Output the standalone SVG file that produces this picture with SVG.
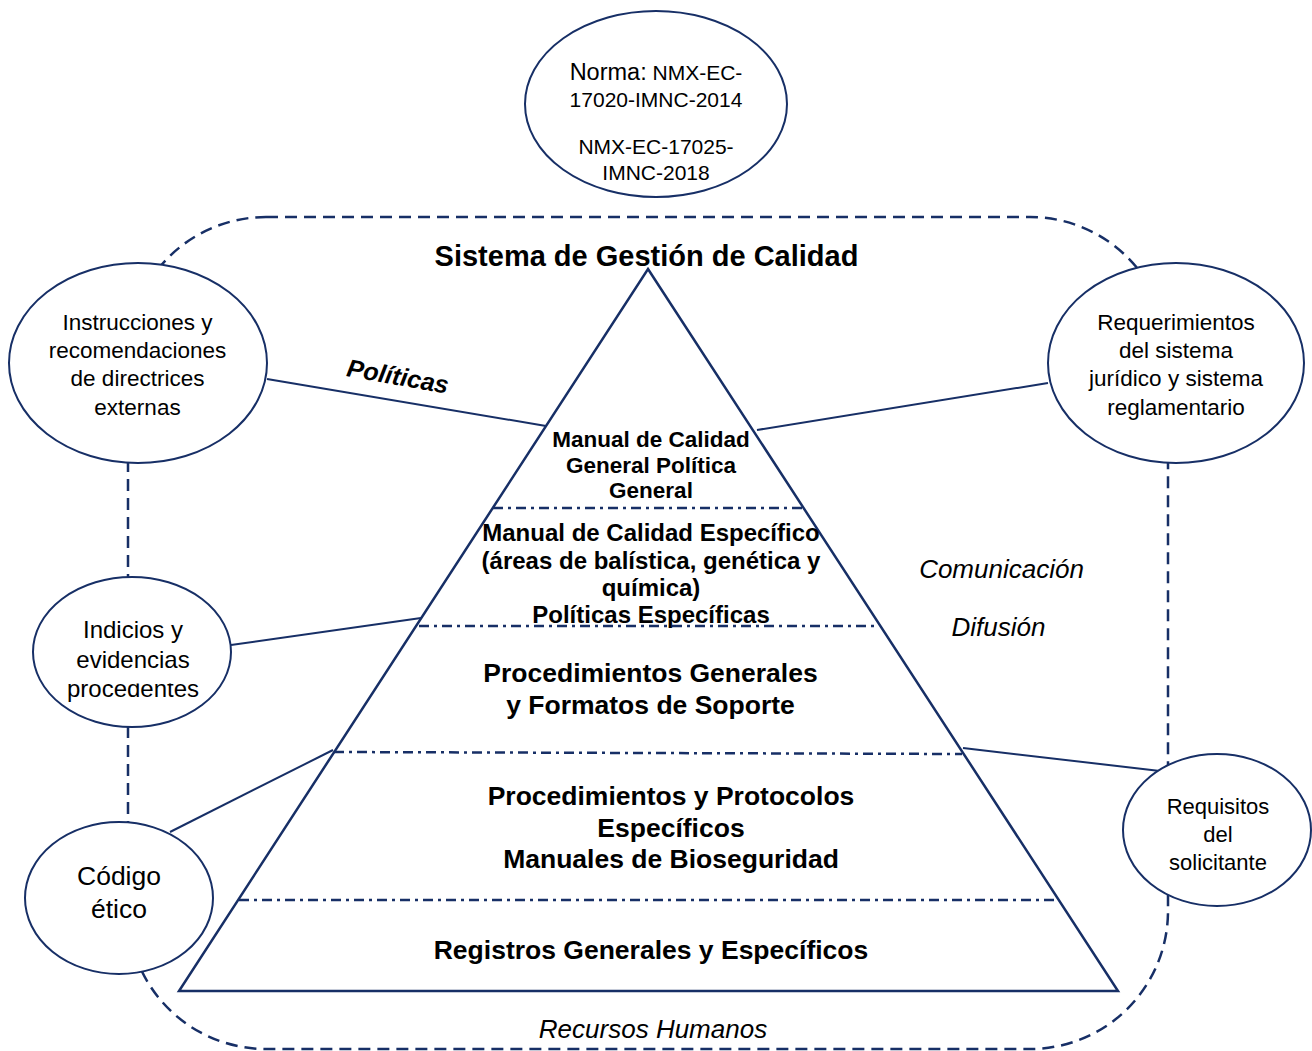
<svg xmlns="http://www.w3.org/2000/svg" width="1312" height="1051" viewBox="0 0 1312 1051">
<defs>
<style>
.ln{stroke:#172f66;stroke-width:2;fill:none}
.bd{stroke:#172f66;stroke-width:2.5;fill:none;stroke-dasharray:12 7}
.dd{stroke:#172f66;stroke-width:2.5;fill:none;stroke-dasharray:10 5 3 5}
.el{stroke:#172f66;stroke-width:2;fill:#fff}
.py{stroke:#172f66;stroke-width:2.5;fill:none;stroke-linejoin:miter}
text{font-family:"Liberation Sans",Arial,sans-serif;fill:#000;text-anchor:middle}
.b{font-weight:bold}
.i{font-style:italic}
</style>
<clipPath id="clipInd" clipPathUnits="userSpaceOnUse"><rect x="0" y="683.5" width="300" height="40"/></clipPath>
</defs>
<rect id="boundary" class="bd" x="128" y="217" width="1040" height="832" rx="138" ry="138"/>
<g id="pyramid">
<polygon class="py" points="648,269 1118,991 179,991"/>
<line class="dd" x1="493" y1="508" x2="806" y2="508"/>
<line class="dd" x1="419" y1="626" x2="878" y2="626"/>
<line class="dd" x1="334" y1="752" x2="962" y2="754"/>
<line class="dd" x1="239" y1="900" x2="1058" y2="900"/>
</g>
<g id="connectors">
<line class="ln" x1="267" y1="379" x2="546" y2="426"/>
<line class="ln" x1="757" y1="430" x2="1048" y2="383"/>
<line class="ln" x1="231" y1="645" x2="421" y2="618"/>
<line class="ln" x1="170" y1="832" x2="333" y2="750"/>
<line class="ln" x1="963" y1="748" x2="1160" y2="771"/>
</g>
<g id="norma">
<ellipse class="el" cx="656" cy="104" rx="131" ry="93"/>
<text x="656" y="80" font-size="21"><tspan font-size="23.5">Norma:</tspan> NMX-EC-</text>
<text x="656" y="107" font-size="21">17020-IMNC-2014</text>
<text x="656" y="154" font-size="21">NMX-EC-17025-</text>
<text x="656" y="180" font-size="21">IMNC-2018</text>
</g>
<g id="instrucciones">
<ellipse class="el" cx="138" cy="363" rx="129" ry="100"/>
<text x="137.5" y="330" font-size="22.5">Instrucciones y</text>
<text x="137.5" y="358" font-size="22.5">recomendaciones</text>
<text x="137.5" y="386" font-size="22.5">de directrices</text>
<text x="137.5" y="415" font-size="22.5">externas</text>
</g>
<g id="requerimientos">
<ellipse class="el" cx="1176" cy="363" rx="128" ry="100"/>
<text x="1176" y="330" font-size="22.5">Requerimientos</text>
<text x="1176" y="358" font-size="22.5">del sistema</text>
<text x="1176" y="386" font-size="22.5">jurídico y sistema</text>
<text x="1176" y="415" font-size="22.5">reglamentario</text>
</g>
<g id="indicios">
<ellipse class="el" cx="132" cy="652" rx="99" ry="75"/>
<text x="133" y="638" font-size="24">Indicios y</text>
<text x="133" y="668" font-size="24">evidencias</text>
<text x="133" y="697" font-size="24" clip-path="url(#clipInd)">procedentes</text>
</g>
<g id="codigo">
<ellipse class="el" cx="119" cy="898" rx="94" ry="76"/>
<text x="119" y="885" font-size="26.5">Código</text>
<text x="119" y="918" font-size="26.5">ético</text>
</g>
<g id="requisitos">
<ellipse class="el" cx="1217" cy="830" rx="94" ry="76"/>
<text x="1218" y="814" font-size="22">Requisitos</text>
<text x="1218" y="842" font-size="22">del</text>
<text x="1218" y="870" font-size="22">solicitante</text>
</g>
<g id="labels">
<text class="b" x="646.5" y="266" font-size="29">Sistema de Gestión de Calidad</text>
<text class="b i" x="398" y="385" font-size="25" transform="rotate(10 398 376)">Políticas</text>
<text class="b" x="651" y="447" font-size="22.5">Manual de Calidad</text>
<text class="b" x="651" y="473" font-size="22.5">General Política</text>
<text class="b" x="651" y="498" font-size="22.5">General</text>
<text class="b" x="651" y="541" font-size="24">Manual de Calidad Específico</text>
<text class="b" x="651" y="569" font-size="24">(áreas de balística, genética y</text>
<text class="b" x="651" y="596" font-size="24">química)</text>
<text class="b" x="651" y="623" font-size="24">Políticas Específicas</text>
<text class="b" x="650.5" y="682" font-size="26.5">Procedimientos Generales</text>
<text class="b" x="650.5" y="714" font-size="26.5">y Formatos de Soporte</text>
<text class="b" x="671" y="805" font-size="26.5">Procedimientos y Protocolos</text>
<text class="b" x="671" y="837" font-size="26.5">Específicos</text>
<text class="b" x="671" y="868" font-size="26.5">Manuales de Bioseguridad</text>
<text class="b" x="651" y="959" font-size="26.5">Registros Generales y Específicos</text>
<text class="i" x="1001.5" y="578" font-size="26">Comunicación</text>
<text class="i" x="998.5" y="636" font-size="26">Difusión</text>
<text class="i" x="653" y="1038" font-size="26">Recursos Humanos</text>
</g>
</svg>
